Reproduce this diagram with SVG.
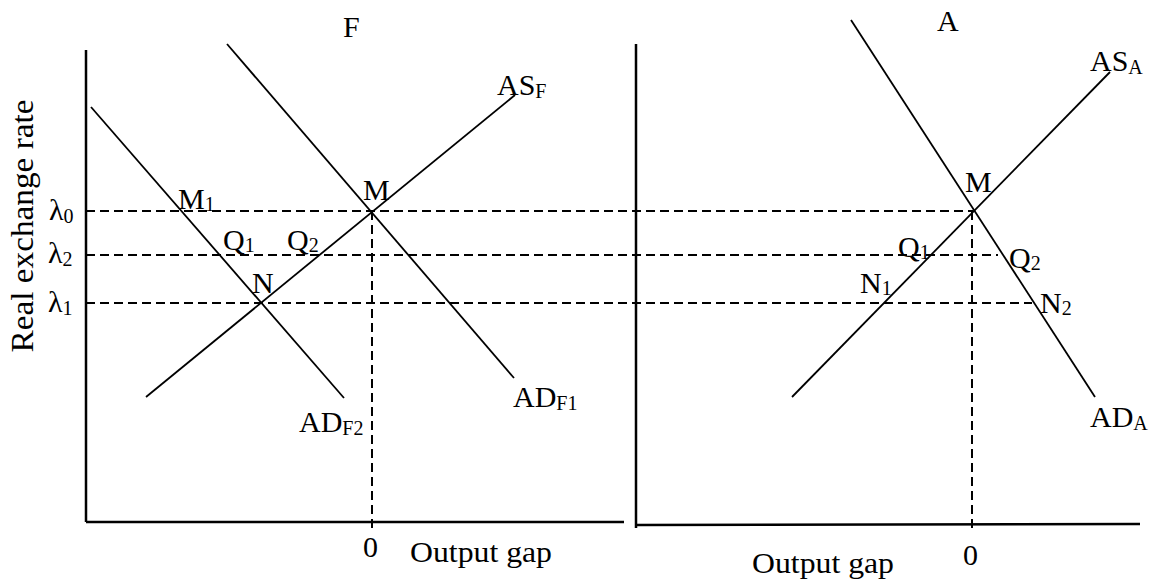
<svg xmlns="http://www.w3.org/2000/svg" width="1157" height="585" viewBox="0 0 1157 585">
<style>
.ax{stroke:#000;stroke-width:2.5;fill:none}
.cv{stroke:#000;stroke-width:1.8;fill:none}
.ds{stroke:#000;stroke-width:2;stroke-dasharray:9 5;fill:none}
text{font-family:"Liberation Serif","Times New Roman",serif;fill:#000;font-size:30px}
.sub{font-size:20px}
.ttl{font-size:30px}
</style>
<rect width="1157" height="585" fill="#fff"/>
<g id="axes">
<line class="ax" x1="86" y1="50" x2="86" y2="522"/>
<line class="ax" x1="86" y1="522" x2="624" y2="522"/>
<line class="ax" x1="636" y1="44" x2="636" y2="528"/>
<line class="ax" x1="636" y1="525" x2="1140" y2="524"/>
</g>
<g id="connectors">
<line class="ds" x1="86" y1="211" x2="973" y2="211"/>
<line class="ds" x1="86" y1="255" x2="998" y2="255"/>
<line class="ds" x1="86" y1="303" x2="1032" y2="303"/>
<line class="ds" x1="372" y1="211" x2="372" y2="530"/>
<line class="ds" x1="972" y1="211" x2="972" y2="532"/>
<line class="cv" x1="91" y1="107" x2="344" y2="398"/>
<line class="cv" x1="227" y1="44" x2="514" y2="378"/>
<line class="cv" x1="146" y1="397" x2="515" y2="95"/>
<line class="cv" x1="851" y1="20" x2="1095" y2="397"/>
<line class="cv" x1="792" y1="397" x2="1110" y2="72"/>
</g>
<g id="ylabel">
<text transform="translate(33,226) rotate(-90)" text-anchor="middle" textLength="253" lengthAdjust="spacingAndGlyphs" style="font-size:31px">Real exchange rate</text>
</g>
<g id="lambdas">
<text x="49" y="220">λ<tspan class="sub" dy="3">0</tspan></text>
<text x="48" y="263">λ<tspan class="sub" dy="3">2</tspan></text>
<text x="48" y="312">λ<tspan class="sub" dy="3">1</tspan></text>
</g>
<g id="panelF">
<text class="ttl" x="343" y="37">F</text>
<text x="497" y="95">AS<tspan class="sub" dy="3">F</tspan></text>
<text x="178" y="209">M<tspan class="sub" dy="2">1</tspan></text>
<text x="363" y="200">M</text>
<text x="223" y="250">Q<tspan class="sub" dy="2">1</tspan></text>
<text x="287" y="250">Q<tspan class="sub" dy="2">2</tspan></text>
<text x="252" y="293">N</text>
<text x="299" y="432">AD<tspan class="sub" dy="3">F2</tspan></text>
<text x="513" y="407">AD<tspan class="sub" dy="3">F1</tspan></text>
<text x="363" y="557">0</text>
<text x="410" y="562" textLength="142" lengthAdjust="spacingAndGlyphs">Output gap</text>
</g>
<g id="panelA">
<text class="ttl" x="937" y="31">A</text>
<text x="1090" y="71">AS<tspan class="sub" dy="3">A</tspan></text>
<text x="965" y="192">M</text>
<text x="898" y="257">Q<tspan class="sub" dy="2">1</tspan></text>
<text x="1009" y="268">Q<tspan class="sub" dy="2">2</tspan></text>
<text x="860" y="293">N<tspan class="sub" dy="2">1</tspan></text>
<text x="1040" y="313">N<tspan class="sub" dy="2">2</tspan></text>
<text x="1090" y="427">AD<tspan class="sub" dy="3">A</tspan></text>
<text x="963" y="565">0</text>
<text x="752" y="573" textLength="142" lengthAdjust="spacingAndGlyphs">Output gap</text>
</g>
</svg>
